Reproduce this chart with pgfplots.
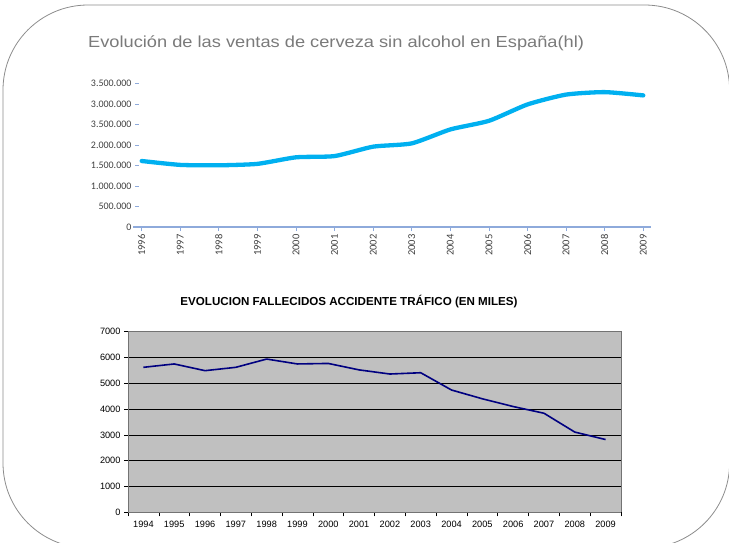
\documentclass[border=0pt]{standalone}
\usepackage{pgfplots}
\pgfplotsset{compat=1.18}
\usepackage{fontspec}
\setmainfont{Liberation Sans}
\newfontfamily\carlito{Carlito}
\definecolor{beerblue}{HTML}{00B0F0}
\definecolor{axblue}{HTML}{8EAADB}
\definecolor{navyline}{HTML}{000080}
\definecolor{plotgray}{HTML}{C0C0C0}
\definecolor{framegray}{HTML}{8C8C8C}
\begin{document}
\begin{tikzpicture}
\clip (0pt,0pt) rectangle (729pt,-542pt);
\draw[framegray, line width=0.8pt, rounded corners=85pt] (3pt,-5pt) rectangle (729.6pt,-548pt);
\node[anchor=base west, text=black!52, font=\fontsize{16}{18}\selectfont, inner sep=0pt] at (88pt,-47pt) {\scalebox{1.14}[1]{Evolución de las ventas de cerveza sin alcohol en España(hl)}};
% top chart
\begin{axis}[
  at={(139pt,-227pt)}, anchor=south west,
  scale only axis, width=512pt, height=143.5pt,
  xmin=1995.93, xmax=2009.2, ymin=0, ymax=3500000,
  scaled y ticks=false,
  axis x line=bottom, axis y line=left,
  x axis line style={-, draw=axblue, line width=1.3pt, shorten <=-6pt},
  y axis line style={draw=none},
  xtick={1996,...,2009},
  xticklabels={1996,1997,1998,1999,2000,2001,2002,2003,2004,2005,2006,2007,2008,2009},
  xticklabel style={rotate=90, anchor=east, font=\carlito\fontsize{10.5}{11}\selectfont, text=black!75},
  ytick={0,500000,1000000,1500000,2000000,2500000,3000000,3500000},
  yticklabels={0,500.000,1.000.000,1.500.000,2.000.000,3.500.000,3.000.000,3.500.000},
  yticklabel style={font=\carlito\fontsize{10}{10}\selectfont, text=black!75},
  tick style={draw=axblue, line width=0.8pt},
  tick align=outside, major tick length=4pt,
  clip=false,
]
\addplot[beerblue, line width=4.3pt, smooth, tension=0.35, line cap=round] coordinates {
(1996,1610000) (1997,1515000) (1998,1505000) (1999,1540000) (2000,1700000)
(2001,1730000) (2002,1960000) (2003,2040000) (2004,2380000) (2005,2590000)
(2006,2990000) (2007,3230000) (2008,3290000) (2009,3210000)};
\end{axis}
\node[anchor=base, font=\bfseries\fontsize{11.6}{13}\selectfont, inner sep=0pt] at (349pt,-305pt) {EVOLUCION FALLECIDOS ACCIDENTE TRÁFICO (EN MILES)};
% bottom chart
\begin{axis}[
  at={(128pt,-512.3pt)}, anchor=south west,
  scale only axis, width=493pt, height=180.6pt,
  xmin=0.5, xmax=16.5, ymin=0, ymax=7000,
  axis background/.style={fill=plotgray},
  axis line style={draw=black!55, line width=0.7pt},
  axis x line*=bottom, axis y line*=left,
  xtick={1,...,16},
  xticklabels={1994,1995,1996,1997,1998,1999,2000,2001,2002,2003,2004,2005,2006,2007,2008,2009},
  major x tick style={draw=none},
  minor xtick={0.5,1.5,...,16.5},
  minor x tick style={draw=black, line width=0.6pt},
  minor tick length=4pt,
  ytick={0,1000,...,7000},
  yticklabels={0,1000,2000,3000,4000,5000,6000,7000},
  major y tick style={draw=black, line width=0.6pt},
  major tick length=4pt,
  tick align=outside,
  ymajorgrids, grid style={draw=black, line width=0.6pt},
  ticklabel style={font=\fontsize{9.2}{10}\selectfont},
  xticklabel style={yshift=-1pt},
]
\addplot[navyline, line width=1.6pt, line join=round] coordinates {
(1,5620) (2,5750) (3,5490) (4,5620) (5,5940) (6,5750) (7,5770) (8,5520)
(9,5360) (10,5410) (11,4740) (12,4400) (13,4100) (14,3840) (15,3110) (16,2820)};
\end{axis}
\draw[black!55, line width=0.7pt] (128pt,-331.7pt) -- (621pt,-331.7pt) -- (621pt,-512.3pt);
\end{tikzpicture}
\end{document}
